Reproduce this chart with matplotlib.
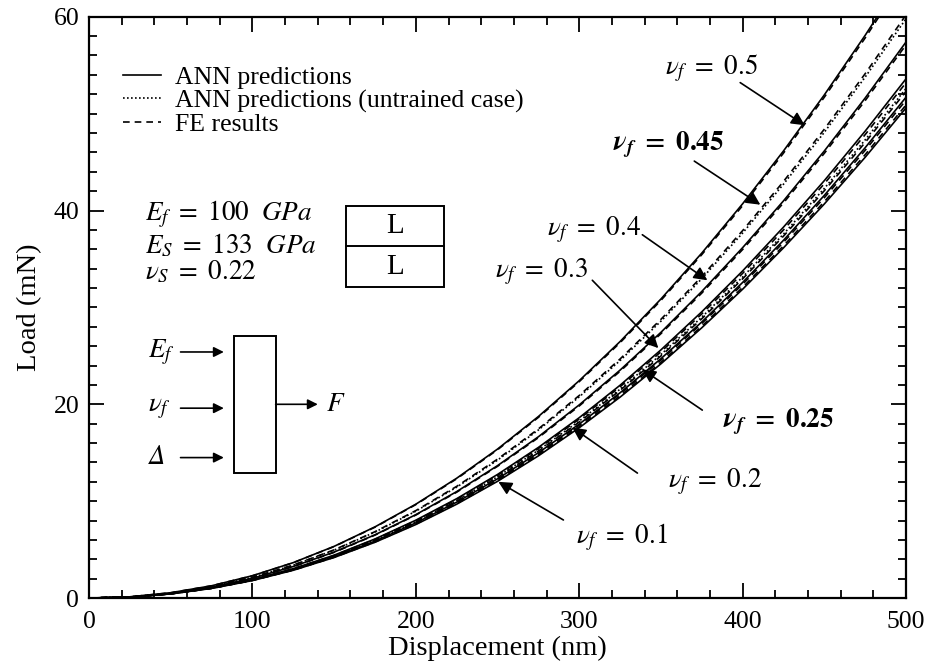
import matplotlib
matplotlib.use("Agg")
import matplotlib.pyplot as plt
from matplotlib.lines import Line2D
from matplotlib.patches import Rectangle

plt.rcParams['font.family'] = ['Liberation Serif', 'DejaVu Serif']
plt.rcParams['mathtext.fontset'] = 'stix'

# displacement grid (nm)
disp = [0, 25, 50, 75, 100, 125, 150, 175, 200, 225, 250,
        275, 300, 325, 350, 375, 400, 425, 450, 475, 500]

# ANN predictions (mN)
ann_05 = [0, 0.13, 0.55, 1.27, 2.31, 3.66, 5.34, 7.35, 9.69, 12.37, 15.38,
          18.74, 22.44, 26.48, 30.87, 35.61, 40.70, 46.15, 51.94, 58.09, 64.6]
ann_045 = [0, 0.12, 0.51, 1.18, 2.14, 3.39, 4.95, 6.81, 8.97, 11.45, 14.24,
           17.35, 20.77, 24.52, 28.58, 32.97, 37.68, 42.72, 48.08, 53.78, 59.8]
ann_04 = [0, 0.12, 0.49, 1.13, 2.05, 3.26, 4.75, 6.53, 8.61, 10.99, 13.67,
          16.65, 19.94, 23.53, 27.43, 31.65, 36.17, 41.00, 46.15, 51.62, 57.4]
ann_03 = [0, 0.11, 0.46, 1.06, 1.92, 3.04, 4.43, 6.10, 8.04, 10.26, 12.76,
          15.55, 18.62, 21.97, 25.62, 29.55, 33.77, 38.29, 43.09, 48.20, 53.6]
ann_025 = [0, 0.11, 0.45, 1.04, 1.88, 2.98, 4.35, 5.99, 7.89, 10.07, 12.53,
           15.26, 18.27, 21.56, 25.14, 29.00, 33.14, 37.57, 42.29, 47.30, 52.6]
ann_02 = [0, 0.10, 0.44, 1.02, 1.85, 2.93, 4.28, 5.88, 7.76, 9.90, 12.31,
          15.00, 17.96, 21.19, 24.71, 28.50, 32.58, 36.93, 41.57, 46.49, 51.7]
ann_01 = [0, 0.10, 0.43, 1.00, 1.81, 2.87, 4.19, 5.76, 7.59, 9.69, 12.05,
          14.68, 17.58, 20.74, 24.18, 27.90, 31.88, 36.15, 40.68, 45.50, 50.6]

# FE results (mN)
fe_05 = [0, 0.13, 0.55, 1.27, 2.30, 3.65, 5.32, 7.32, 9.65, 12.31, 15.31,
         18.65, 22.34, 26.36, 30.73, 35.45, 40.51, 45.93, 51.70, 57.82, 64.3]
fe_045 = [0, 0.12, 0.51, 1.19, 2.15, 3.41, 4.98, 6.85, 9.03, 11.53, 14.34,
          17.46, 20.91, 24.68, 28.77, 33.19, 37.93, 43.00, 48.40, 54.13, 60.2]
fe_04 = [0, 0.12, 0.49, 1.12, 2.04, 3.24, 4.72, 6.50, 8.57, 10.93, 13.60,
         16.56, 19.83, 23.41, 27.29, 31.48, 35.98, 40.79, 45.91, 51.35, 57.1]
fe_03 = [0, 0.11, 0.45, 1.05, 1.90, 3.02, 4.40, 6.06, 7.98, 10.19, 12.67,
         15.43, 18.48, 21.81, 25.42, 29.33, 33.52, 38.00, 42.77, 47.84, 53.2]
fe_025 = [0, 0.11, 0.45, 1.03, 1.87, 2.97, 4.33, 5.95, 7.85, 10.01, 12.46,
          15.17, 18.17, 21.44, 24.99, 28.83, 32.95, 37.36, 42.05, 47.03, 52.3]
fe_02 = [0, 0.10, 0.44, 1.01, 1.84, 2.92, 4.25, 5.85, 7.71, 9.84, 12.24,
         14.91, 17.85, 21.07, 24.56, 28.34, 32.39, 36.72, 41.33, 46.22, 51.4]
fe_01 = [0, 0.10, 0.43, 1.00, 1.82, 2.89, 4.21, 5.79, 7.64, 9.75, 12.12,
         14.77, 17.68, 20.87, 24.33, 28.06, 32.07, 36.36, 40.92, 45.77, 50.9]

dotted = (0, (1, 1.4))
dashed = (0, (4, 3))

fig = plt.figure(figsize=(9.37, 6.69), dpi=100)
ax = fig.add_axes([0.095, 0.106, 0.872, 0.869])

lw = 1.2
for y in [fe_05, fe_045, fe_04, fe_03, fe_025, fe_02, fe_01]:
    ax.plot(disp, y, color='k', lw=lw, ls=dashed)
for y in [ann_05, ann_04, ann_03, ann_02, ann_01]:
    ax.plot(disp, y, color='k', lw=lw, ls='-')
for y in [ann_045, ann_025]:
    ax.plot(disp, y, color='k', lw=lw, ls=dotted)

ax.set_xlim(0, 500)
ax.set_ylim(0, 60)
ax.set_xticks([0, 100, 200, 300, 400, 500])
ax.set_yticks([0, 20, 40, 60])
ax.set_xticks(range(0, 501, 20), minor=True)
ax.set_yticks(range(0, 61, 2), minor=True)
ax.tick_params(which='both', direction='in', top=True, right=True, width=1.3, labelsize=18.5)
ax.tick_params(which='major', length=11)
ax.tick_params(which='minor', length=6)
ax.tick_params(axis='x', pad=9)
ax.tick_params(axis='y', pad=7)
for s in ax.spines.values():
    s.set_linewidth(1.6)
ax.set_xlabel('Displacement (nm)', fontsize=20.5, labelpad=2)
ax.set_ylabel('Load (mN)', fontsize=20.5, labelpad=8)

# legend
handles = [Line2D([], [], color='k', lw=lw, ls='-'),
           Line2D([], [], color='k', lw=lw, ls=dotted),
           Line2D([], [], color='k', lw=lw, ls=dashed)]
labels = ['ANN predictions', 'ANN predictions (untrained case)', 'FE results']
ax.legend(handles, labels, loc='upper left', bbox_to_anchor=(0.041, 0.915),
          frameon=False, fontsize=18.5, handlelength=1.5, handletextpad=0.55,
          labelspacing=0.0, borderpad=0, borderaxespad=0)

# curve labels with arrows
arrow = dict(arrowstyle='-|>', color='k', lw=1.2, mutation_scale=20,
             shrinkA=0, shrinkB=0)
notes = [
    (r'$\nu_f\ =\ 0.5$', (381, 54.7), (398.5, 53.2), (438, 48.8)),
    (r'$\mathbfit{\nu}_{\mathbfit{f}}\ \mathbf{=\ 0.45}$', (354.5, 46.8), (370.4, 45.1), (410.8, 40.6)),
    (r'$\nu_f\ =\ 0.4$', (308.7, 38.0), (338.6, 37.5), (378.4, 32.8)),
    (r'$\nu_f\ =\ 0.3$', (277, 33.7), (308, 32.8), (348.4, 25.8)),
    (r'$\mathbfit{\nu}_{\mathbfit{f}}\ \mathbf{=\ 0.25}$', (421.8, 18.2), (375.3, 19.4), (338.6, 23.6)),
    (r'$\nu_f\ =\ 0.2$', (383, 12.0), (335.6, 12.9), (295.8, 17.6)),
    (r'$\nu_f\ =\ 0.1$', (325.8, 6.3), (290.3, 8.06), (250.5, 12.0)),
]
for txt, tpos, start, tip in notes:
    ax.text(tpos[0], tpos[1], txt, fontsize=19.5, ha='center', va='center')
    ax.annotate('', xy=tip, xytext=start, arrowprops=arrow)

# material parameters
ax.text(34, 39.6, r'$E_f\ =\ 100\ \ GPa$', fontsize=19.5, va='center')
ax.text(34, 36.4, r'$E_S\ =\ 133\ \ GPa$', fontsize=19.5, va='center')
ax.text(34, 33.6, r'$\nu_S\ =\ 0.22$', fontsize=19.5, va='center')

# layer box
ax.add_patch(Rectangle((157, 32.1), 60.5, 8.4, fill=False, lw=1.4, color='k'))
ax.plot([157, 217.5], [36.3, 36.3], color='k', lw=1.4)
ax.text(187.2, 38.4, 'L', fontsize=21, ha='center', va='center')
ax.text(187.2, 34.2, 'L', fontsize=21, ha='center', va='center')

# network block diagram
ax.add_patch(Rectangle((88.5, 12.9), 25.7, 14.2, fill=False, lw=1.4, color='k'))
small = dict(arrowstyle='-|>', color='k', lw=1.2, mutation_scale=15,
             shrinkA=0, shrinkB=0)
ax.text(36, 25.4, r'$E_f$', fontsize=19.5, va='center')
ax.text(36, 19.6, r'$\nu_f$', fontsize=19.5, va='center')
ax.text(36.5, 14.5, 'Δ', fontsize=19.5, va='center', family='STIXGeneral', style='italic')
for yv in [25.4, 19.6, 14.5]:
    ax.annotate('', xy=(82.5, yv), xytext=(56, yv), arrowprops=small)
ax.annotate('', xy=(140, 20.0), xytext=(114.2, 20.0), arrowprops=small)
ax.text(145, 20.0, r'$F$', fontsize=19.5, va='center')

fig.savefig('out.png', dpi=100)
